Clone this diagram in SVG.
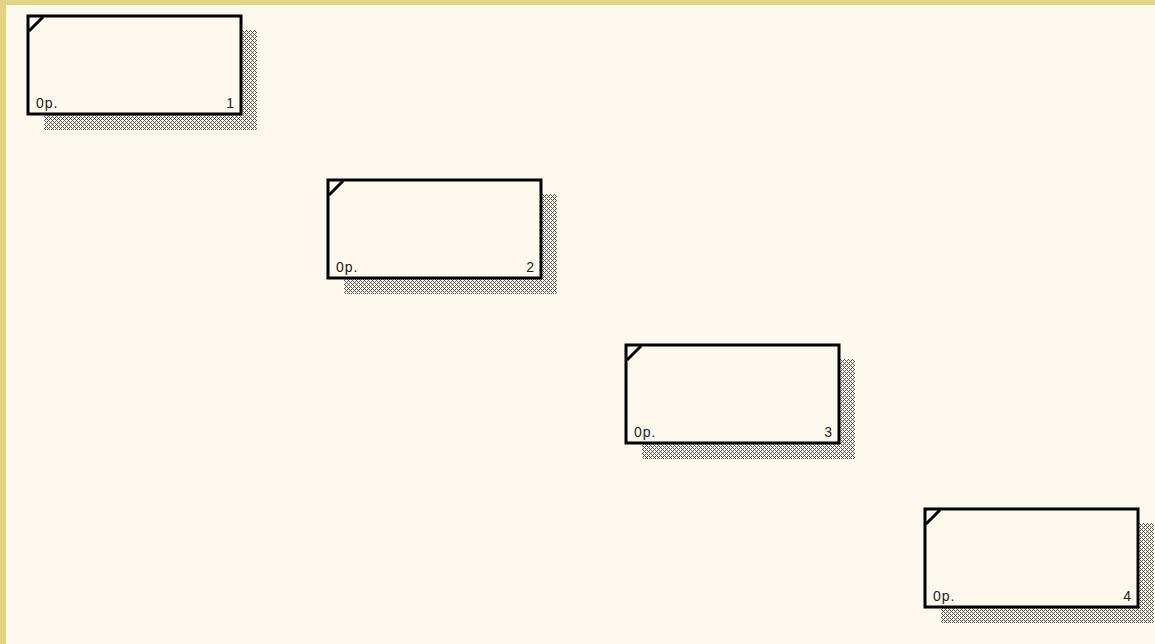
<svg xmlns="http://www.w3.org/2000/svg" width="1155" height="644" viewBox="0 0 1155 644">
<style>
.box{fill:#fdf9ee;stroke:#000;stroke-width:3}
.corner{stroke:#000;stroke-width:3;fill:none}
.shadow{fill:url(#dots)}
.lbl{font-family:"Liberation Sans",Arial,sans-serif;font-size:14px;fill:#222;letter-spacing:1px}
.num{font-family:"Liberation Sans",Arial,sans-serif;font-size:14px;fill:#222}
</style>
<defs>
<pattern id="dots" width="4" height="4" patternUnits="userSpaceOnUse">
<rect x="0" y="0" width="1" height="1" fill="#555"/>
<rect x="1" y="1" width="1" height="1" fill="#555"/>
<rect x="2" y="2" width="1" height="1" fill="#555"/>
<rect x="3" y="3" width="1" height="1" fill="#555"/>
<rect x="3" y="1" width="1" height="1" fill="#555"/>
<rect x="1" y="3" width="1" height="1" fill="#555"/>
</pattern>
</defs>
<rect width="1155" height="644" fill="#e2d483"/>
<rect x="6" y="5" width="1149" height="639" fill="#fdf9ee"/>
<g id="node1" transform="translate(28,16)">
<rect class="shadow" x="16" y="14" width="213" height="100"/>
<rect class="box" x="0" y="0" width="213" height="98"/>
<path class="corner" d="M1,15 L15,1"/>
<text class="lbl" x="8" y="92">0p.</text>
<text class="num" x="206" y="92" text-anchor="end">1</text>
</g>
<g id="node2" transform="translate(328,180)">
<rect class="shadow" x="16" y="14" width="213" height="100"/>
<rect class="box" x="0" y="0" width="213" height="98"/>
<path class="corner" d="M1,15 L15,1"/>
<text class="lbl" x="8" y="92">0p.</text>
<text class="num" x="206" y="92" text-anchor="end">2</text>
</g>
<g id="node3" transform="translate(626,345)">
<rect class="shadow" x="16" y="14" width="213" height="100"/>
<rect class="box" x="0" y="0" width="213" height="98"/>
<path class="corner" d="M1,15 L15,1"/>
<text class="lbl" x="8" y="92">0p.</text>
<text class="num" x="206" y="92" text-anchor="end">3</text>
</g>
<g id="node4" transform="translate(925,509)">
<rect class="shadow" x="16" y="14" width="213" height="100"/>
<rect class="box" x="0" y="0" width="213" height="98"/>
<path class="corner" d="M1,15 L15,1"/>
<text class="lbl" x="8" y="92">0p.</text>
<text class="num" x="206" y="92" text-anchor="end">4</text>
</g>
<g id="connectors"></g>
</svg>
